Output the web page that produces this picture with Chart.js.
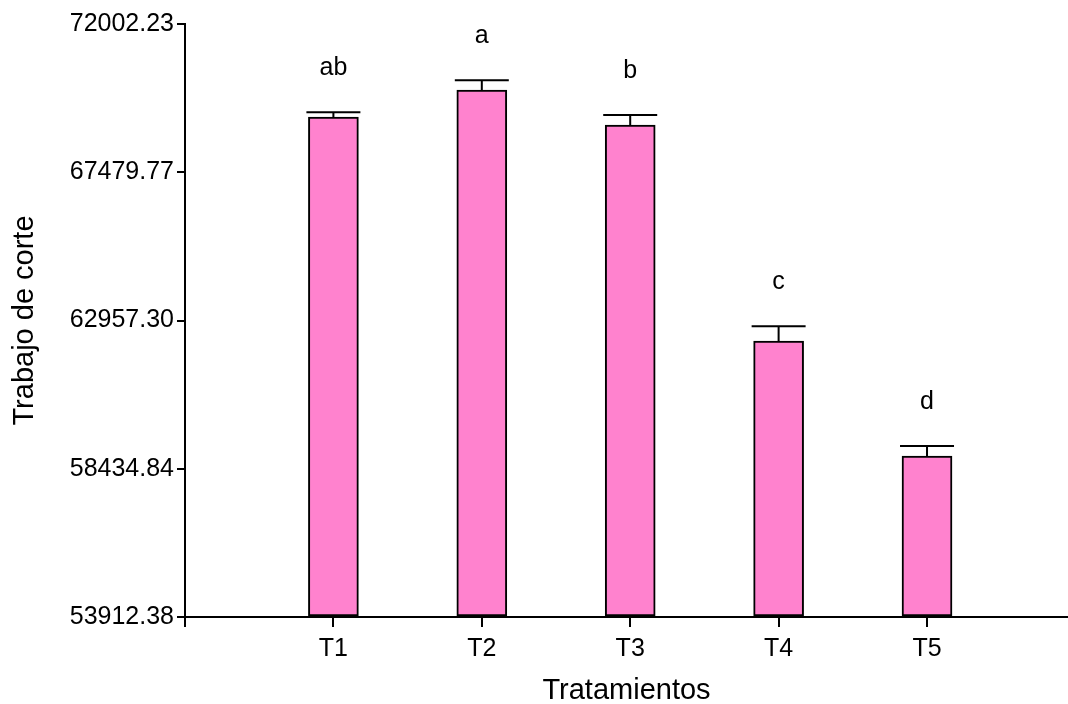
<!DOCTYPE html>
<html>
<head>
<meta charset="utf-8">
<script src="https://cdn.jsdelivr.net/npm/chart.js@4/dist/chart.umd.min.js"></script>
<style>
  html, body { margin: 0; padding: 0; background: #fff; }
  #wrap { width: 1068px; height: 704px; }
</style>
</head>
<body>
<div id="wrap"><canvas id="c" width="1068" height="704"></canvas></div>
<script>
// Treatments, mean cutting work, standard error and significance groups
const treatments = ['T1', 'T2', 'T3', 'T4', 'T5'];
const positions = [1, 2, 3, 4, 5];
const means = [69165, 69989, 68921, 62332, 58824];
const errors = [143, 296, 305, 448, 305];
const groups = ['ab', 'a', 'b', 'c', 'd'];
const yTickValues = [53912.38, 58434.84, 62957.30, 67479.77, 72002.23];

const FONT = '"Liberation Sans", Arial, sans-serif';

// Error bars and group letters drawn on top of the bars
const errorBarPlugin = {
  id: 'errorBars',
  afterDatasetsDraw(chart) {
    const { ctx, scales: { x, y } } = chart;
    ctx.save();
    ctx.strokeStyle = '#000';
    ctx.lineWidth = 2;
    ctx.fillStyle = '#000';
    ctx.font = '25px ' + FONT;
    ctx.textAlign = 'center';
    ctx.textBaseline = 'alphabetic';
    positions.forEach((p, i) => {
      const px = x.getPixelForValue(p);
      const top = y.getPixelForValue(means[i]);
      const cap = y.getPixelForValue(means[i] + errors[i]);
      ctx.beginPath();
      ctx.moveTo(px, top);
      ctx.lineTo(px, cap);
      ctx.moveTo(px - 27, cap);
      ctx.lineTo(px + 27, cap);
      ctx.stroke();
      ctx.fillText(groups[i], px, cap - 37);
    });
    ctx.restore();
  }
};

new Chart(document.getElementById('c'), {
  type: 'bar',
  data: {
    datasets: [{
      data: positions.map((p, i) => ({ x: p, y: means[i] })),
      base: yTickValues[0],
      backgroundColor: '#FF82CE',
      borderColor: '#000',
      borderWidth: 2,
      borderSkipped: false,
      barThickness: 50
    }]
  },
  plugins: [errorBarPlugin],
  options: {
    responsive: false,
    animation: false,
    layout: { padding: { top: 24, right: 0, left: 0, bottom: 0 } },
    plugins: { legend: { display: false }, tooltip: { enabled: false } },
    scales: {
      x: {
        type: 'linear',
        offset: false,
        min: 0,
        max: 5.95,
        afterFit(scale) { scale.height = 87; },
        ticks: {
          stepSize: 1,
          includeBounds: false,
          color: '#000',
          font: { family: FONT, size: 25 },
          padding: 7,
          maxRotation: 0,
          autoSkip: false,
          callback(v) {
            const i = positions.indexOf(v);
            return i >= 0 ? treatments[i] : '';
          }
        },
        grid: { offset: false, drawOnChartArea: false, drawTicks: true, tickLength: 10, color: '#000', lineWidth: 2 },
        border: { color: '#000', width: 2 },
        title: {
          display: true,
          text: 'Tratamientos',
          color: '#000',
          font: { family: FONT, size: 29 },
          padding: { top: 0, bottom: -4 }
        }
      },
      y: {
        type: 'linear',
        min: yTickValues[0],
        max: yTickValues[yTickValues.length - 1],
        afterBuildTicks(scale) {
          scale.ticks = yTickValues.map(v => ({ value: v }));
        },
        afterFit(scale) { scale.width = 185; },
        ticks: {
          color: '#000',
          font: { family: FONT, size: 25 },
          padding: 3,
          callback(v) { return Number(v).toFixed(2); }
        },
        grid: { drawOnChartArea: false, drawTicks: true, tickLength: 8, color: '#000', lineWidth: 2 },
        border: { color: '#000', width: 2 },
        title: {
          display: true,
          text: 'Trabajo de corte',
          color: '#000',
          font: { family: FONT, size: 29 },
          padding: { top: 8, bottom: 0 }
        }
      }
    }
  }
});
</script>
</body>
</html>
